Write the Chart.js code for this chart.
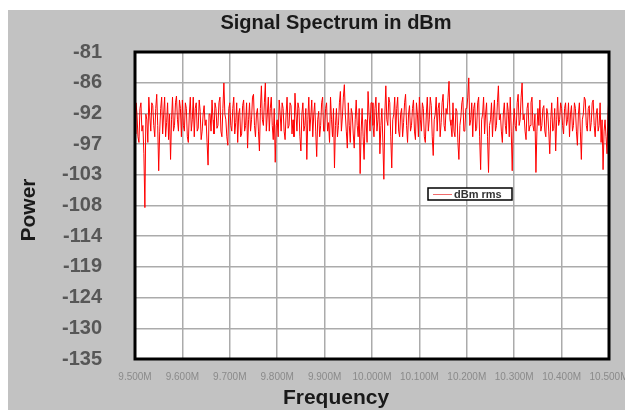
<!DOCTYPE html>
<html>
<head>
<meta charset="utf-8">
<title>Signal Spectrum in dBm</title>
<script src="https://cdn.jsdelivr.net/npm/chart.js@4.4.1/dist/chart.umd.min.js"></script>
<style>
    html, body { margin: 0; padding: 0; background: #fff; }
    #spectrum { display: block; }
</style>
</head>
<body>
<canvas id="spectrum" width="625" height="410"></canvas>
<script>
// Power readings (dBm rms), evenly spaced from 9.5 to 10.5 MHz (one row per 0.1 MHz)
const power = [
    -95.5, -90, -92, -96, -97, -91, -90, -95, -94, -99, -108.5, -92, -93, -97, -89, -92.5, -95, -90, -90.5, -94, -96, -91, -88.5, -94, -102, -95, -91, -89, -95.5, -92, -89, -96, -93.5, -90, -96.5, -92, -100, -93, -89, -95, -94, -90, -88.8, -93, -95, -89.5, -91, -96,
    -89.5, -94, -95, -90, -91, -96, -97, -92, -89, -95, -93, -89, -96, -91, -90, -95, -94.5, -89.5, -91.5, -96.5, -95, -92, -90.5, -94, -93, -97, -101, -92, -92, -95, -89.5, -93, -95.5, -90, -91, -94.5, -94, -90, -89, -95, -96, -91, -86.5, -92, -93, -96, -97.5, -91,
    -90, -94, -95, -91, -89, -95.5, -93.5, -90, -97, -92, -91, -96, -95.5, -90.5, -89.5, -95, -94, -90, -98, -93, -90, -95, -93, -89, -88.5, -94, -96, -92, -91, -95, -98.5, -91, -87, -93, -94, -90, -86.5, -95, -92, -89, -95, -91, -89, -94, -96.5, -91, -100.5, -94,
    -93, -96, -89.5, -92, -95, -90, -91, -95, -96.5, -92, -89, -94.5, -94, -90, -90.5, -95.5, -93, -96, -88.3, -92, -95, -90, -91, -96, -98.5, -92, -90, -95, -94, -91, -100, -93, -89, -95, -92.5, -89.5, -96, -92, -90, -95, -99.5, -93, -91.5, -96, -94, -90, -89, -95,
    -95, -91, -90, -95, -93.5, -97, -89, -93, -96, -91, -101.5, -94, -91, -96, -94, -90, -88, -95, -92.5, -89, -86.8, -92, -95, -98, -90, -94, -97, -91, -92, -95.5, -98, -93, -89.5, -94, -96, -91, -102.5, -95, -91, -96, -100, -93, -93, -97, -88, -92, -95, -90,
    -90, -94, -96, -91, -89, -95, -93, -90, -99, -94, -91, -97, -103.5, -92, -87, -93, -94, -89, -90, -96, -101.5, -93, -92, -89, -95.5, -91, -89, -95, -96, -92, -91, -96, -93.5, -90, -88.5, -94, -97, -92, -90.5, -95, -94, -91, -89.5, -95, -96.5, -90, -92, -96,
    -89, -93, -95, -90, -91, -96, -97, -92, -89, -95, -93, -89, -90.5, -96, -99.3, -93, -92, -89, -95, -91, -90, -96, -93.5, -90, -88.5, -94, -95, -91, -92, -89, -86.2, -93, -94, -96, -90, -95, -96, -91, -91.5, -97, -100, -94, -92.5, -90, -89, -95, -95, -91,
    -91, -89, -85.6, -94, -93, -90, -96, -91, -90, -95, -94.5, -90, -89, -96, -101.8, -93, -92, -89, -95.5, -92, -90, -96, -102.3, -94, -93, -90, -96, -92, -89.5, -95, -94, -90, -87, -93, -92, -95, -97, -92, -90, -94, -95.5, -90, -91.5, -96, -89, -95, -102, -94,
    -91, -94, -95, -90, -88.5, -94, -93, -89, -86.5, -93, -92, -95, -96.5, -91, -90, -95, -94, -90, -89, -94, -95, -92, -102.3, -95, -91, -94, -89.5, -95, -94, -91, -90.5, -95, -96, -91, -92, -95, -99, -93, -90, -95, -94.5, -91, -98.5, -93, -89, -94, -93, -90,
    -91, -94, -95.5, -91, -90, -94, -93, -90, -96, -92, -90.5, -95, -94, -90, -91, -95, -97.5, -92, -90, -95, -100, -93, -92, -89, -89.5, -94, -95, -91, -90.5, -95, -93.5, -90, -89.5, -94, -96, -92, -91, -95, -94, -90, -97, -93, -101.8, -95, -93, -96, -99, -92, -88.5
];

const freqMHz = power.map((_, i) => 9.5 + i / (power.length - 1));

const xTickValues = [9.5, 9.6, 9.7, 9.8, 9.9, 10.0, 10.1, 10.2, 10.3, 10.4, 10.5];
const xTickLabels = ['9.500M', '9.600M', '9.700M', '9.800M', '9.900M', '10.000M', '10.100M', '10.200M', '10.300M', '10.400M', '10.500M'];

const yMax = -81.03;
const yStep = 5.42;
const yTickLabels = ['-81', '-86', '-92', '-97', '-103', '-108', '-114', '-119', '-124', '-130', '-135'];
const yTickValues = yTickLabels.map((_, i) => yMax - i * yStep);

const FONT = "'Liberation Sans', Arial, sans-serif";

// Gray frame, white plot area, border, legend and titles
const frame = {
    id: 'frame',
    beforeDraw(chart) {
        const { ctx, chartArea: a } = chart;
        ctx.save();
        ctx.fillStyle = '#ffffff';
        ctx.fillRect(0, 0, chart.width, chart.height);
        ctx.fillStyle = '#c2c2c2';
        ctx.fillRect(8, 10, chart.width - 8, chart.height - 10);
        ctx.fillStyle = '#ffffff';
        ctx.fillRect(a.left, a.top, a.right - a.left, a.bottom - a.top);
        ctx.restore();
    },
    afterDraw(chart) {
        const { ctx, chartArea: a } = chart;
        ctx.save();
        ctx.strokeStyle = '#000000';
        ctx.lineWidth = 3;
        ctx.strokeRect(a.left, a.top, a.right - a.left, a.bottom - a.top);

        // legend box
        ctx.fillStyle = '#ffffff';
        ctx.fillRect(428, 188, 84, 12);
        ctx.lineWidth = 1.5;
        ctx.strokeRect(428, 188, 84, 12);
        ctx.strokeStyle = '#f06a6a';
        ctx.lineWidth = 1;
        ctx.beginPath();
        ctx.moveTo(433, 194.5);
        ctx.lineTo(452, 194.5);
        ctx.stroke();
        ctx.fillStyle = '#333333';
        ctx.font = 'bold 11px ' + FONT;
        ctx.textBaseline = 'middle';
        ctx.textAlign = 'left';
        ctx.fillText('dBm rms', 454, 194.5);

        // titles
        ctx.fillStyle = '#1a1a1a';
        ctx.textAlign = 'center';
        ctx.font = 'bold 20px ' + FONT;
        ctx.fillText('Signal Spectrum in dBm', 336, 23);
        ctx.font = 'bold 21px ' + FONT;
        ctx.fillText('Frequency', 336, 398);
        ctx.translate(29, 210);
        ctx.rotate(-Math.PI / 2);
        ctx.fillText('Power', 0, 0);
        ctx.restore();
    }
};

new Chart(document.getElementById('spectrum'), {
    type: 'line',
    data: {
        labels: freqMHz,
        datasets: [{
            label: 'dBm rms',
            data: power,
            borderColor: '#ff0000',
            borderWidth: 1,
            pointRadius: 0,
            tension: 0,
            fill: false
        }]
    },
    options: {
        responsive: false,
        animation: false,
        layout: { padding: { top: 52, right: 16, left: 0, bottom: 0 } },
        plugins: {
            legend: { display: false },
            title: { display: false },
            tooltip: { enabled: false }
        },
        scales: {
            x: {
                type: 'linear',
                min: 9.5,
                max: 10.5,
                afterFit: s => { s.height = 51; s.paddingLeft = 0; s.paddingRight = 0; },
                afterBuildTicks: s => { s.ticks = xTickValues.map(v => ({ value: v })); },
                grid: { color: '#ababab', lineWidth: 1.5, drawTicks: false },
                border: { display: false },
                ticks: {
                    padding: 12,
                    autoSkip: false,
                    maxRotation: 0,
                    color: '#8a8a8a',
                    font: { family: FONT, size: 10 },
                    callback: (v, i) => xTickLabels[i]
                }
            },
            y: {
                min: yMax - 10 * yStep,
                max: yMax,
                afterFit: s => { s.width = 135; s.paddingTop = 0; s.paddingBottom = 0; },
                afterBuildTicks: s => { s.ticks = yTickValues.map(v => ({ value: v })); },
                grid: { color: '#ababab', lineWidth: 1.5, drawTicks: false },
                border: { display: false },
                ticks: {
                    padding: 33,
                    color: '#575757',
                    font: { family: FONT, size: 20, weight: 'bold' },
                    callback: (v, i) => yTickLabels[i]
                }
            }
        }
    },
    plugins: [frame]
});
</script>
</body>
</html>
